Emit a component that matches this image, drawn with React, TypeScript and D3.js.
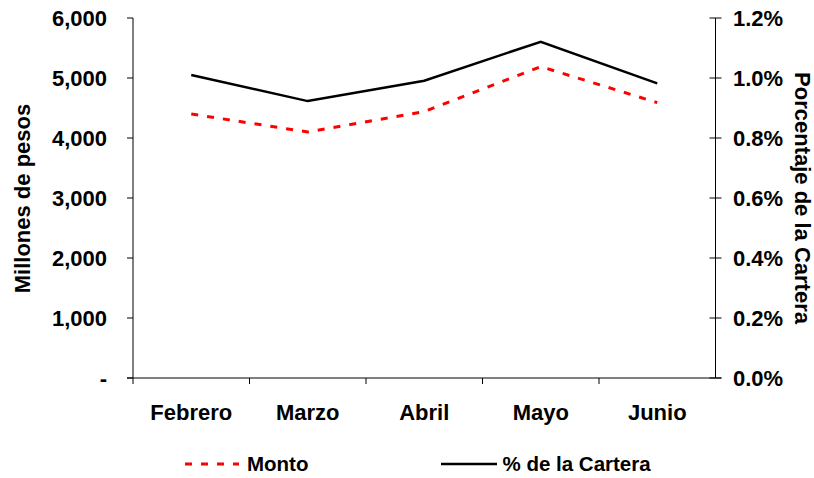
import React from "react";
import * as d3 from "d3";

const categories = ["Febrero", "Marzo", "Abril", "Mayo", "Junio"];
const monto = [4400, 4100, 4440, 5190, 4590];
const pctCartera = [1.01, 0.923, 0.991, 1.121, 0.982];
const leftTicks = [0, 1000, 2000, 3000, 4000, 5000, 6000];
const rightTicks = [0, 0.2, 0.4, 0.6, 0.8, 1.0, 1.2];

const W = 814, H = 478;
const L = 133, R = 715.5, T = 18, B = 378;
const FONT = "'Liberation Sans', Arial, sans-serif";
const FS = 22;
const LFS = 20.5;

export default function App() {
  const x = d3.scaleBand<string>().domain(categories).range([L, R]);
  const yL = d3.scaleLinear().domain([0, 6000]).range([B, T]);
  const yR = d3.scaleLinear().domain([0, 1.2]).range([B, T]);
  const cx = (c: string) => (x(c) ?? 0) + x.bandwidth() / 2;
  const montoLine = d3.line<number>().x((_, i) => cx(categories[i])).y((d) => yL(d))(monto) ?? "";
  const pctLine = d3.line<number>().x((_, i) => cx(categories[i])).y((d) => yR(d))(pctCartera) ?? "";
  const fmtL = (v: number) => (v === 0 ? "-" : d3.format(",")(v));
  const fmtR = (v: number) => d3.format(".1f")(v) + "%";

  return (
    <svg width={W} height={H} style={{ position: "absolute", left: 0, top: 0, background: "#fff" }} fontFamily={FONT} fontWeight="bold">
      {/* left axis */}
      <line x1={L} x2={L} y1={T} y2={B} stroke="#000" strokeWidth={1} />
      {leftTicks.map((t) => (
        <g key={"l" + t}>
          <line x1={L - 6} x2={L} y1={yL(t)} y2={yL(t)} stroke="#000" strokeWidth={1} />
          <text x={107} y={yL(t)} dy="0.36em" textAnchor="end" fontSize={FS}>{fmtL(t)}</text>
        </g>
      ))}
      {/* right axis */}
      <line x1={R} x2={R} y1={T} y2={B} stroke="#000" strokeWidth={1} />
      {rightTicks.map((t) => (
        <g key={"r" + t}>
          <line x1={R - 6} x2={R + 6} y1={yR(t)} y2={yR(t)} stroke="#000" strokeWidth={1} />
          <text x={733} y={yR(t)} dy="0.36em" textAnchor="start" fontSize={FS}>{fmtR(t)}</text>
        </g>
      ))}
      {/* x axis */}
      <line x1={L - 6} x2={R + 6} y1={B} y2={B} stroke="#000" strokeWidth={1} />
      {categories.map((c, i) => (
        <g key={c}>
          {i > 0 && <line x1={x(c)} x2={x(c)} y1={B} y2={B + 6} stroke="#000" strokeWidth={1} />}
          <text x={cx(c)} y={420} textAnchor="middle" fontSize={FS}>{c}</text>
        </g>
      ))}
      <line x1={L} x2={L} y1={B} y2={B + 6} stroke="#000" strokeWidth={1} />
      {/* lines */}
      <path d={montoLine} fill="none" stroke="#ff0000" strokeWidth={3} strokeDasharray="7,9" />
      <path d={pctLine} fill="none" stroke="#000" strokeWidth={2.5} />
      {/* axis titles */}
      <text transform={`translate(29.5,${(T + B) / 2 + 0.5}) rotate(-90)`} textAnchor="middle" fontSize={FS}>Millones de pesos</text>
      <text transform={`translate(795,${(T + B) / 2}) rotate(90)`} textAnchor="middle" fontSize={FS}>Porcentaje de la Cartera</text>
      {/* legend */}
      <line x1={185} x2={239} y1={464} y2={464} stroke="#ff0000" strokeWidth={3} strokeDasharray="7,9" />
      <text x={247} y={464} dy="0.36em" fontSize={LFS}>Monto</text>
      <line x1={441} x2={497} y1={464} y2={464} stroke="#000" strokeWidth={2.5} />
      <text x={502.5} y={464} dy="0.36em" fontSize={LFS}>% de la Cartera</text>
    </svg>
  );
}
